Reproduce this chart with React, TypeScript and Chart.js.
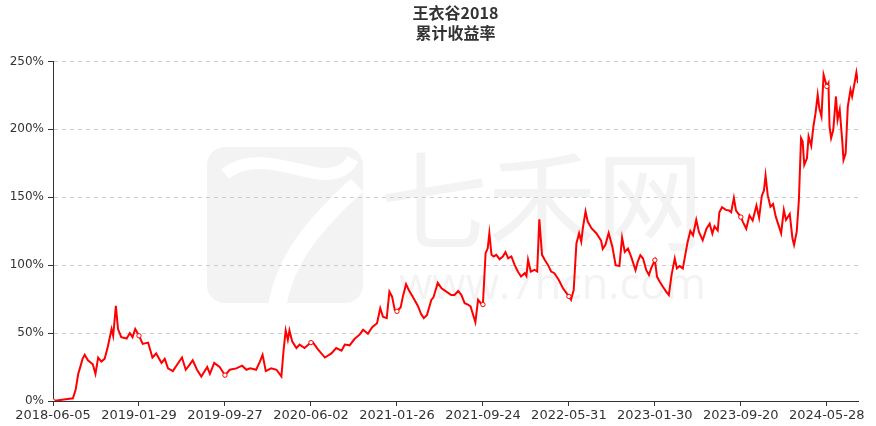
import React, { useEffect, useRef } from "react";
import { Chart, registerables } from "chart.js";

Chart.register(...registerables);

const titleText = "王衣谷2018";
const subtitleText = "累计收益率";

const tickLabels = [
  "2018-06-05", "2019-01-29", "2019-09-27", "2020-06-02", "2021-01-26",
  "2021-09-24", "2022-05-31", "2023-01-30", "2023-09-20", "2024-05-28",
];
const tickDays = [0, 160, 320, 480, 640, 800, 960, 1120, 1280, 1440];
const lastDay = 1498;

const yTicks = [0, 50, 100, 150, 200, 250];

// trading-day index of each sampled point
const dayIndex = [
  0, 37, 42, 47, 50, 55, 59, 65, 74, 79, 84, 90, 96, 102, 109, 112, 117, 121, 127, 137,
  143, 148, 153, 160, 167, 177, 185, 192, 202, 208, 214, 223, 233, 240, 247, 253, 260, 268, 276, 287,
  292, 300, 310, 320, 329, 341, 352, 360, 367, 378, 385, 390, 396, 406, 416, 425, 429, 433, 437, 440,
  445, 453, 459, 468, 480, 484, 493, 506, 518, 527, 537, 543, 552, 561, 571, 577, 586, 594, 603, 609,
  614, 621, 626, 631, 636, 640, 647, 651, 657, 662, 670, 679, 685, 690, 696, 704, 708, 716, 723, 732,
  741, 747, 754, 760, 766, 772, 777, 786, 791, 796, 800, 805, 809, 812, 816, 820, 825, 831, 837, 842,
  847, 853, 859, 865, 871, 878, 881, 884, 889, 896, 901, 905, 910, 915, 921, 927, 933, 941, 949, 960,
  964, 969, 974, 979, 983, 986, 991, 995, 1002, 1011, 1020, 1023, 1028, 1034, 1041, 1047, 1054, 1059, 1064, 1070,
  1076, 1084, 1088, 1093, 1098, 1104, 1109, 1113, 1120, 1124, 1129, 1135, 1141, 1146, 1151, 1157, 1161, 1166, 1172, 1177,
  1181, 1186, 1191, 1197, 1202, 1209, 1216, 1222, 1227, 1231, 1237, 1240, 1245, 1252, 1258, 1262, 1267, 1271, 1280, 1284,
  1290, 1296, 1302, 1309, 1314, 1319, 1323, 1326, 1330, 1335, 1340, 1345, 1349, 1355, 1360, 1364, 1371, 1376, 1379, 1384,
  1388, 1392, 1395, 1398, 1403, 1406, 1411, 1415, 1419, 1423, 1426, 1430, 1434, 1440, 1443, 1445, 1448, 1452, 1457, 1460,
  1464, 1469, 1471, 1475, 1479, 1484, 1487, 1491, 1495, 1498,
];

// cumulative return (%) at each sampled point
const returnPct = [
  0, 2, 8, 20, 24, 31, 34, 30, 27, 20, 32, 29, 31, 40, 53, 48, 70, 53, 47, 46,
  50, 47, 53, 48, 42, 43, 32, 35, 28, 31, 24, 22, 28, 32, 23, 26, 30, 23, 18, 25,
  20, 28, 25, 19, 23, 24, 26, 23, 24, 23, 29, 34, 22, 24, 23, 18, 37, 52, 45, 52,
  44, 39, 41.5, 39, 43, 43, 38, 32, 35, 39, 37, 41.5, 41, 45.6, 49, 52.4, 49.5, 54.4, 57.3, 68.3,
  62, 61, 80.5, 76.8, 67, 66, 69, 76.8, 86, 81.7, 76.3, 70, 64, 61, 63.4, 74.4, 76.3, 87, 83, 80.5,
  78, 78, 81, 78, 72, 71, 69.6, 58, 74.5, 72, 71, 108.8, 112.5, 123.5, 107.6, 106.4, 107.6, 104.4, 106.4, 109.6,
  105, 106.4, 100.2, 95.3, 91.7, 94.1, 92, 104, 95.3, 96.6, 95.3, 133.8, 107.6, 104, 100.2, 95.3, 94.1, 89.2, 83, 77,
  74.5, 81.9, 116, 123.5, 117.4, 127.2, 139.5, 132.1, 127.2, 123.5, 118, 112, 115, 123.7, 113.4, 100, 99.3, 120.2, 109.8, 112.2,
  106.1, 96.3, 102.4, 107.3, 104.9, 96.3, 92.7, 97.6, 103.7, 91.5, 87.8, 84.1, 80.5, 78, 92.7, 104.9, 97.6, 99.3, 97.6, 108.5,
  117.1, 125.1, 122, 133.4, 124.4, 118.3, 126.8, 130.5, 123.2, 128.5, 125.6, 139, 142.7, 140.7, 140.2, 139, 149.5, 140.2, 135.4, 131.7,
  126.8, 136.6, 132.9, 143.9, 135, 151, 155, 166, 151.5, 143, 145, 135.7, 130.8, 123.5, 140.7, 133.3, 137.7, 119.8, 114.9, 124.7,
  148, 193.5, 191, 173.8, 178.7, 194.7, 187.8, 202.1, 211.9, 225.4, 215.6, 209.5, 240.2, 231.6, 234, 202.1, 193.5, 199.6, 224.2, 207,
  214.4, 189.8, 177.5, 182.4, 216.8, 229.1, 224.2, 232.8, 241.9, 234,
];

const LINE_RED = "#ff0000";
const TEXT_COLOR = "#333333";
const WATERMARK = "#f3f3f3";

const watermarkPlugin = {
  id: "watermark",
  beforeDraw(chart: any) {
    const ctx = chart.ctx as CanvasRenderingContext2D;
    ctx.save();
    // logo block
    ctx.fillStyle = WATERMARK;
    const lx = 207, ly = 147, ls = 156;
    ctx.beginPath();
    (ctx as any).roundRect(lx, ly, ls, ls, 18);
    ctx.fill();
    ctx.strokeStyle = "#ffffff";
    ctx.lineCap = "butt";
    ctx.lineWidth = 12;
    ctx.beginPath();
    ctx.moveTo(lx + 18, ly + 27);
    ctx.bezierCurveTo(lx + 50, ly + 2, lx + 95, ly + 28, lx + 120, ly + 27);
    ctx.bezierCurveTo(lx + 135, ly + 26, lx + 142, ly + 20, lx + 146, ly + 12);
    ctx.stroke();
    ctx.lineWidth = 18;
    ctx.beginPath();
    ctx.moveTo(lx + 150, ly + 38);
    ctx.bezierCurveTo(lx + 110, ly + 75, lx + 78, ly + 110, lx + 70, ly + 160);
    ctx.stroke();
    // text marks
    ctx.fillStyle = WATERMARK;
    ctx.textAlign = "left";
    ctx.textBaseline = "middle";
    ctx.font = "108px 'Noto Sans CJK SC'";
    ctx.fillText("七禾网", 380, 201);
    ctx.textBaseline = "alphabetic";
    ctx.font = "43px 'Open Sans'";
    ctx.fillText("www.7hcn.com", 399, 299);
    ctx.restore();
  },
};

export default function App() {
  const canvasRef = useRef<HTMLCanvasElement | null>(null);

  useEffect(() => {
    document.body.style.margin = "0";
    document.body.style.overflow = "hidden";
    const canvas = canvasRef.current;
    if (!canvas) return;

    const points = dayIndex.map((d, i) => ({ x: d, y: returnPct[i] }));

    const chart = new Chart(canvas, {
      type: "line",
      data: {
        datasets: [
          {
            data: points,
            borderColor: LINE_RED,
            borderWidth: 2,
            backgroundColor: LINE_RED,
            tension: 0,
            fill: false,
            pointRadius: (c: any) => (tickDays.includes(dayIndex[c.dataIndex]) ? 2.2 : 0),
            pointBackgroundColor: "#ffffff",
            pointBorderColor: LINE_RED,
            pointBorderWidth: 1,
            pointHoverRadius: 0,
          },
        ],
      },
      options: {
        animation: false,
        responsive: false,
        maintainAspectRatio: false,
        events: [],
        layout: { padding: { left: 0, right: 18, top: 0, bottom: 0 } },
        plugins: {
          legend: { display: false },
          tooltip: { enabled: false },
          title: {
            display: true,
            text: titleText,
            fullSize: false,
            color: TEXT_COLOR,
            font: { family: "'Noto Sans CJK SC'", size: 16, weight: "bold" },
            padding: { top: 3, bottom: 1 },
          },
          subtitle: {
            display: true,
            text: subtitleText,
            fullSize: false,
            color: TEXT_COLOR,
            font: { family: "'Noto Sans CJK SC'", size: 16, weight: "bold" },
            padding: { top: 0, bottom: 19 },
          },
        },
        scales: {
          x: {
            type: "linear",
            min: 0,
            max: lastDay,
            afterBuildTicks: (s: any) => {
              s.ticks = tickDays.map((v) => ({ value: v }));
            },
            afterFit: (s: any) => {
              s.height = 25;
            },
            ticks: {
              autoSkip: false,
              maxRotation: 0,
              minRotation: 0,
              includeBounds: false,
              padding: 2,
              color: TEXT_COLOR,
              font: { family: "'DejaVu Sans'", size: 13 },
              callback: (v: any) => {
                const i = tickDays.indexOf(Number(v));
                return i >= 0 ? tickLabels[i] : "";
              },
            },
            grid: {
              drawOnChartArea: false,
              drawTicks: true,
              tickLength: 5,
              tickColor: TEXT_COLOR,
            },
            border: { display: true, color: TEXT_COLOR, width: 1 },
          },
          y: {
            min: 0,
            max: 250,
            afterBuildTicks: (s: any) => {
              s.ticks = yTicks.map((v) => ({ value: v }));
            },
            afterFit: (s: any) => {
              s.width = 53;
            },
            ticks: {
              padding: 4,
              color: TEXT_COLOR,
              font: { family: "'DejaVu Sans'", size: 12 },
              callback: (v: any) => `${v}%`,
            },
            grid: {
              color: "#cccccc",
              tickColor: TEXT_COLOR,
              tickLength: 5,
              tickBorderDash: [],
            } as any,
            border: { display: true, color: TEXT_COLOR, width: 1, dash: [4, 4] },
          },
        },
      },
      plugins: [watermarkPlugin],
    } as any);

    return () => chart.destroy();
  }, []);

  return (
    <div style={{ width: 876, height: 426, position: "relative" }}>
      <canvas ref={canvasRef} width={876} height={426} style={{ display: "block", width: 876, height: 426 }} />
    </div>
  );
}
